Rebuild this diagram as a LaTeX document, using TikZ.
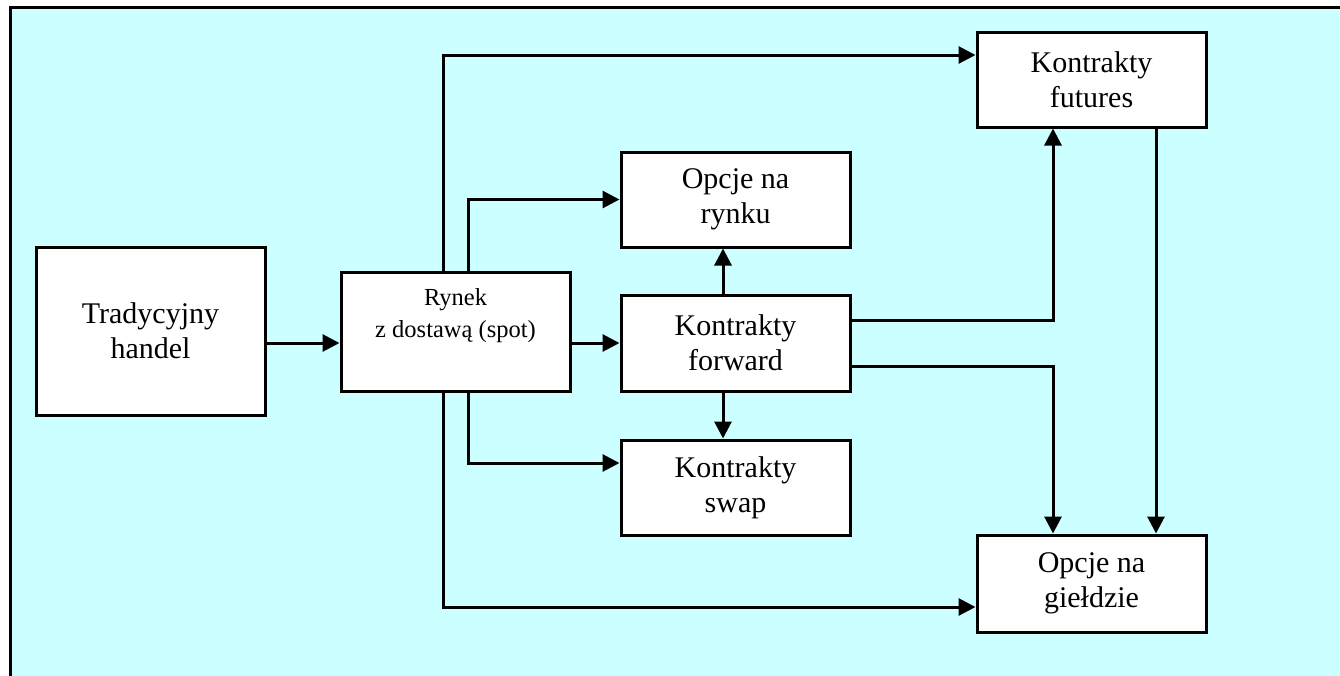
\documentclass[tikz,border=0pt]{standalone}
\usepackage{fontspec}
\setmainfont{Liberation Serif}
\usetikzlibrary{arrows.meta,calc}
\definecolor{panel}{RGB}{204,255,255}
\tikzset{
  box/.style={draw=black, line width=3pt, fill=white, minimum width=229pt,
    inner sep=0pt, align=center, font=\fontsize{30}{35}\selectfont},
  arr/.style={line width=3pt, -{Triangle[length=17pt,width=17pt]}},
  link/.style={line width=3pt},
}
\begin{document}
\begin{tikzpicture}[x=1pt,y=-1pt]
  \useasboundingbox (0,0) rectangle (1340,675);
  \clip (0,0) rectangle (1340,675);
  \fill[white] (0,0) rectangle (1340,675);
  % panel with its frame running off the right and bottom edges
  \fill[panel] (10,7) rectangle (1350,685);
  \draw[line width=3pt] (10,685) -- (10,7) -- (1350,7);

  % boxes
  \node[box, minimum height=168pt] (trad) at (150.5,331) {Tradycyjny\\handel};
  \node[box, minimum height=119pt] (rynek) at (455.5,331.5) {};
  \node[anchor=north, inner sep=0pt, align=center,
        font=\fontsize{24.5}{32}\selectfont] (rynekt) at (455.5,288)
        {Rynek\\z dostawą (spot)};
  \node[box, minimum height=95pt] (oprynek) at (735.5,199.5) {Opcje na\\rynku};
  \node[box, minimum height=96pt] (fwd) at (735.5,343) {Kontrakty\\forward};
  \node[box, minimum height=95pt] (swap) at (735.5,487.5) {Kontrakty\\swap};
  \node[box, minimum height=95pt] (futures) at (1091.5,79.5) {Kontrakty\\futures};
  \node[box, minimum height=97pt] (gield) at (1091.5,583.5) {Opcje na\\giełdzie};

  % connectors
  \draw[arr] (trad.east |- fwd) -- (rynek.west |- fwd);
  \draw[arr] (rynek.east |- fwd) -- (fwd.west);
  \draw[arr] ($(rynek.north)+(-12.5,0)$) |- ($(futures.west)+(0,-24.5)$);
  \draw[arr] ($(rynek.north)+(12.5,0)$) |- (oprynek.west);
  \draw[arr] ($(rynek.south)+(12.5,0)$) |- ($(swap.west)+(0,-24.5)$);
  \draw[arr] ($(rynek.south)+(-12.5,0)$) |- ($(gield.west)+(0,23.5)$);
  \draw[arr] ($(fwd.north)+(-12.5,0)$) -- ($(oprynek.south)+(-12.5,0)$);
  \draw[arr] ($(fwd.south)+(-12.5,0)$) -- ($(swap.north)+(-12.5,0)$);
  \draw[arr] ($(fwd.east)+(0,-23)$) -| ($(futures.south)+(-38.5,0)$);
  \draw[arr] ($(fwd.east)+(0,23)$) -| ($(gield.north)+(-38.5,0)$);
  \draw[arr] ($(futures.south)+(64.5,0)$) -- ($(gield.north)+(64.5,0)$);
\end{tikzpicture}
\end{document}
